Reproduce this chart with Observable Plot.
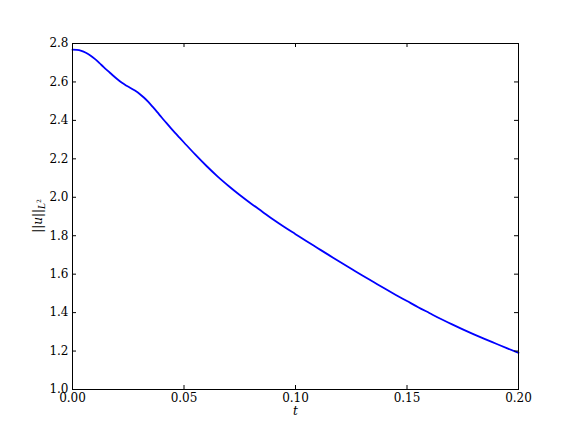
<!DOCTYPE html>
<html><head><meta charset="utf-8">
<script src="https://cdn.jsdelivr.net/npm/d3@7"></script>
<script src="https://cdn.jsdelivr.net/npm/@observablehq/plot@0.6"></script>
<style>body{margin:0;background:#fff}</style>
</head><body><div id="chart"></div>
<script>
const tValues = [0.000,0.002,0.004,0.006,0.008,0.010,0.012,0.014,0.016,0.018,0.020,0.022,0.024,0.026,0.028,0.030,0.032,0.034,0.036,0.038,0.040,0.042,0.044,0.046,0.048,0.050,0.055,0.060,0.065,0.070,0.075,0.080,0.085,0.090,0.095,0.100,0.105,0.110,0.115,0.120,0.125,0.130,0.135,0.140,0.145,0.150,0.155,0.160,0.165,0.170,0.175,0.180,0.185,0.190,0.195,0.200];
const normValues = [2.768,2.767,2.762,2.752,2.738,2.720,2.699,2.677,2.656,2.635,2.615,2.597,2.582,2.569,2.555,2.539,2.519,2.496,2.470,2.443,2.415,2.388,2.361,2.335,2.310,2.285,2.223,2.164,2.109,2.059,2.012,1.968,1.926,1.884,1.845,1.808,1.771,1.735,1.699,1.663,1.628,1.593,1.559,1.525,1.492,1.460,1.428,1.398,1.368,1.340,1.313,1.287,1.262,1.238,1.214,1.191];
const xTicks = [0.00,0.05,0.10,0.15,0.20];
const yTicks = [1.0,1.2,1.4,1.6,1.8,2.0,2.2,2.4,2.6,2.8];
const xLabel = "t";

const W = 576, H = 432, mL = 72, mR = 58, mT = 43, mB = 43;
const innerW = W - mL - mR, innerH = H - mT - mB;
const data = tValues.map((t, i) => ({t, v: normValues[i]}));

const plot = Plot.plot({
  width: W, height: H,
  marginLeft: mL, marginRight: mR, marginTop: mT, marginBottom: mB,
  style: {fontFamily: "'DejaVu Serif', serif", fontSize: "12px", background: "#fff", color: "#000"},
  x: {domain: [0, 0.2]},
  y: {domain: [1.0, 2.8]},
  marks: [
    Plot.line(data, {x: "t", y: "v", stroke: "#0000ff", strokeWidth: 1.8, curve: "monotone-x"}),
    Plot.frame({stroke: "#000", strokeWidth: 1}),
    Plot.tickX(xTicks, {x: d => d, insetTop: innerH - 4, stroke: "#000"}),
    Plot.tickX(xTicks, {x: d => d, insetBottom: innerH - 4, stroke: "#000"}),
    Plot.tickY(yTicks, {y: d => d, insetRight: innerW - 4, stroke: "#000"}),
    Plot.tickY(yTicks, {y: d => d, insetLeft: innerW - 4, stroke: "#000"}),
    Plot.axisX(xTicks, {tickSize: 0, tickPadding: 4, tickFormat: d3.format(".2f"), label: null}),
    Plot.axisY(yTicks, {tickSize: 0, tickPadding: 4, tickFormat: d3.format(".1f"), label: null}),
    Plot.text([xLabel], {text: d => d, frameAnchor: "bottom", lineAnchor: "bottom", dy: 25, fontStyle: "italic", fontSize: 12})
  ]
});
document.getElementById("chart").appendChild(plot);

// y-axis label with subscript: ||u||_{L^2}
const svg = d3.select(plot);
const yl = svg.append("text")
  .attr("transform", `translate(${mL - 30},${mT + innerH / 2}) rotate(-90)`)
  .attr("text-anchor", "middle")
  .attr("font-family", "'DejaVu Serif', serif")
  .attr("font-size", 12)
  .attr("fill", "#000");
yl.append("tspan").text("||");
yl.append("tspan").attr("font-style", "italic").text("u");
yl.append("tspan").text("||");
yl.append("tspan").attr("font-style", "italic").attr("font-size", 9).attr("dy", 3).text("L");
yl.append("tspan").attr("font-size", 6).attr("dy", -4).text("2");
</script>
</body></html>
